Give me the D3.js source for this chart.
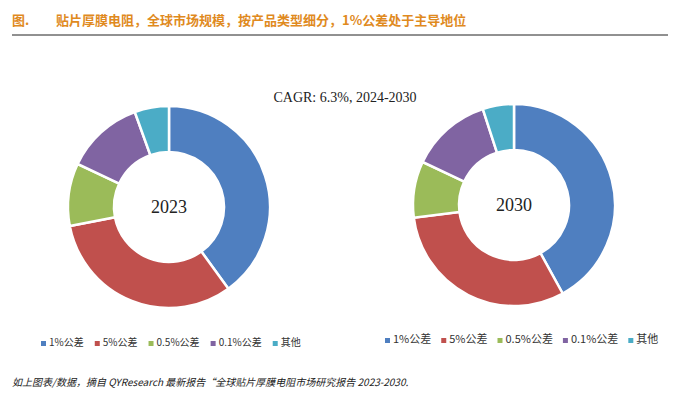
<!DOCTYPE html>
<html><head><meta charset="utf-8">
<script src="https://cdn.jsdelivr.net/npm/d3@7"></script>
<style>body{margin:0;background:#fff}</style>
</head><body>
<svg id="c" width="679" height="406"></svg>
<script>
const categories = ["1%公差", "5%公差", "0.5%公差", "0.1%公差", "其他"];
const values2023 = [40, 32, 10, 12.5, 5.5];
const values2030 = [42, 31, 9, 13, 5];
const colors = ["#4f7fc0", "#c0504d", "#9bbb59", "#8064a2", "#4bacc6"];

const svg = d3.select("#c");
svg.append("text").attr("x", 12).attr("y", 25).attr("fill", "#e08a1e")
  .attr("font-family", "Noto Sans CJK SC").attr("font-size", 13).attr("font-weight", "bold")
  .text("图.");
svg.append("text").attr("x", 56).attr("y", 25).attr("fill", "#e08a1e")
  .attr("font-family", "Noto Sans CJK SC").attr("font-size", 13).attr("font-weight", "bold")
  .text("贴片厚膜电阻，全球市场规模，按产品类型细分，1%公差处于主导地位");
svg.append("line").attr("x1", 12).attr("x2", 668).attr("y1", 35).attr("y2", 35)
  .attr("stroke", "#222").attr("stroke-width", 1);

svg.append("text").attr("x", 345).attr("y", 102).attr("text-anchor", "middle")
  .attr("font-family", "Liberation Serif").attr("font-size", 14).attr("fill", "#222")
  .text("CAGR: 6.3%, 2024-2030");

const pie = d3.pie().sort(null).value(d => d);
const arc = d3.arc().innerRadius(55).outerRadius(101);

function donut(vals, cx, cy, label) {
  const g = svg.append("g").attr("transform", `translate(${cx},${cy})`);
  g.selectAll("path").data(pie(vals)).join("path")
    .attr("d", arc).attr("fill", (d, i) => colors[i])
    .attr("stroke", "#fff").attr("stroke-width", 2.5);
  g.append("text").attr("text-anchor", "middle").attr("dy", "0.35em")
    .attr("font-family", "Liberation Serif").attr("font-size", 18).attr("fill", "#222").text(label);
}
donut(values2023, 169, 207, "2023");
donut(values2030, 514, 205, "2030");

function legend(x0, y, gap, fs) {
  let x = x0;
  categories.forEach((c, i) => {
    svg.append("rect").attr("x", x).attr("y", y - 5).attr("width", 5).attr("height", 5).attr("fill", colors[i]);
    const t = svg.append("text").attr("x", x + 8).attr("y", y).attr("font-family", "Noto Sans CJK SC")
      .attr("font-size", fs).attr("fill", "#333").text(c);
    x += t.node().getComputedTextLength() + 8 + gap;
  });
}
legend(41, 346, 11, 10);
legend(385, 343, 10, 11);

svg.append("text").attr("x", 12).attr("y", 386).attr("font-family", "Noto Sans CJK SC")
  .attr("font-size", 10).attr("font-style", "italic").attr("fill", "#222")
  .text("如上图表/数据，摘自 QYResearch 最新报告“全球贴片厚膜电阻市场研究报告 2023-2030.");
</script>
</body></html>
